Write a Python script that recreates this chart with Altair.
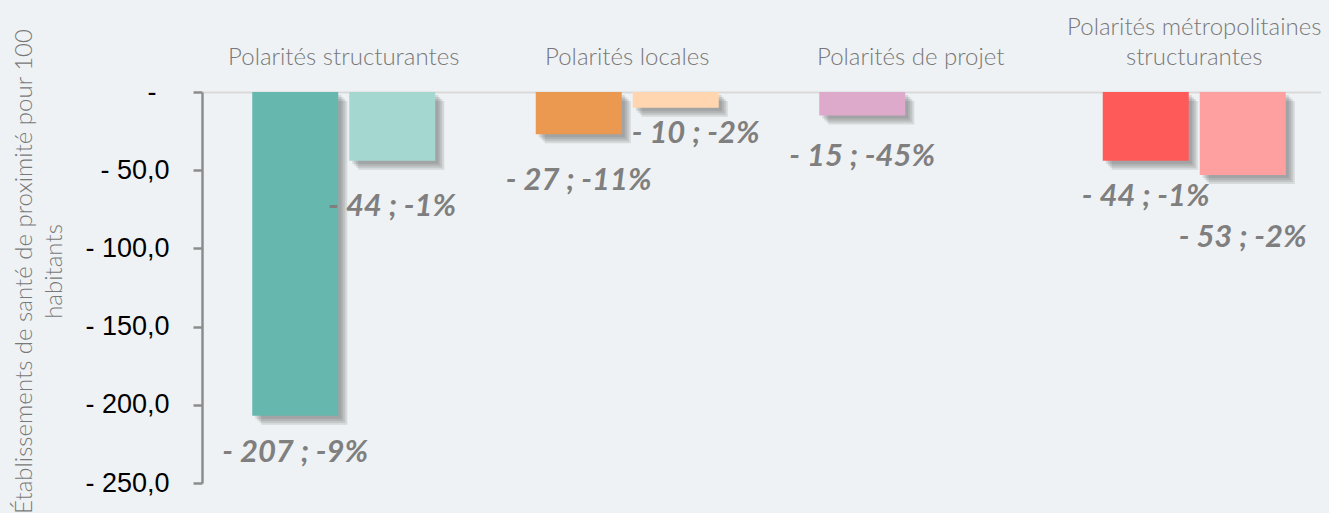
import altair as alt
import pandas as pd

categories = ["Polarités structurantes", "Polarités locales", "Polarités de projet",
              "Polarités métropolitaines structurantes"]
series = ["A", "B"]
values_a = [-207, -27, -15, -44]
values_b = [-44, -10, 0, -53]
pct_a = [-9, -11, -45, -1]
pct_b = [-1, -2, None, -2]
y_ticks = [0, -50, -100, -150, -200, -250]

# styles (not data)
colors_a = ["#66b8ae", "#eb9850", "#ddaacb", "#ff5a5a"]
colors_b = ["#a5d7d1", "#ffd6b0", "#eff2f4", "#ffa0a0"]
label_dy_a = [37, 47, 42, 36]
label_dy_b = [46, 26, 0, 63]
label_dx_a = [0, 0, 0, 0]
label_dx_b = [0, 20, 0, 0]

BG = "#eff2f4"

# page background (same colour as the chart), no scrollbars, no shrinking of the svg
try:
    import altair.utils.html as _h
    _orig = _h.TEMPLATES["standard"]

    class _BgTemplate:
        def render(self, *a, **kw):
            html = _orig.render(*a, **kw)
            return html.replace(
                "<style>",
                "<style>\n    html, body { background: %s; overflow: hidden; }\n"
                "    #vis svg { flex-shrink: 0; }" % BG, 1)

    _h.TEMPLATES["standard"] = _BgTemplate()
except Exception:
    pass

rows = []
keys, colors, styles = [], [], []
for s, vals, pcts, cols, ldy, ldx in [("A", values_a, pct_a, colors_a, label_dy_a, label_dx_a),
                                      ("B", values_b, pct_b, colors_b, label_dy_b, label_dx_b)]:
    for c, v, p, col, dy, dx in zip(categories, vals, pcts, cols, ldy, ldx):
        lab = "" if (v == 0 or p is None) else f"- {abs(v)} ; {p}%"
        k = f"{c}|{s}"
        rows.append({"cat": c, "serie": s, "value": v, "label": lab, "key": k})
        keys.append(k)
        colors.append(col)
        styles.append((k, s, lab, dx, dy))
df = pd.DataFrame(rows)

BAR_W = 86
HALF = 48.5

x_enc = alt.X(
    "cat:N", sort=categories,
    scale=alt.Scale(paddingInner=0, paddingOuter=0),
    axis=alt.Axis(
        orient="top", title=None, labelAngle=0, labelFont="Lato", labelFontWeight=300,
        labelFontSize=24, labelColor="#787878", ticks=False, domainColor="#d9d9d9",
        domainWidth=2, labelPadding=53, labelLimit=500, labelLineHeight=30,
        labelExpr="datum.value == 'Polarités métropolitaines structurantes' ? "
                  "['Polarités métropolitaines', 'structurantes'] : ['', datum.label]",
    ),
)
y_enc = alt.Y(
    "value:Q",
    scale=alt.Scale(domain=[-250, 0], nice=False),
    axis=alt.Axis(
        values=y_ticks, grid=False,
        labelExpr="datum.value == 0 ? '-\u00a0\u2009\u200b' : '- ' + replace(format(-datum.value, '.1f'), '.', ',')",
        labelFont="Liberation Sans", labelFontSize=27, labelColor="#000000",
        labelPadding=24, tickColor="#8c8c8c", tickSize=9, tickWidth=2.5,
        domainColor="#8c8c8c", domainWidth=2.5,
        title=["Établissements de santé de proximité pour 100", "habitants"],
        titleFont="Lato", titleFontWeight=300, titleFontSize=24, titleColor="#787878",
        titleAngle=270, titleAlign="center", titleBaseline="alphabetic", titleLineHeight=30,
        titleX=-171, titleY=179, titleLimit=1000,
    ),
)
color_enc = alt.Color("key:N", scale=alt.Scale(domain=keys, range=colors), legend=None)

base = alt.Chart(df)
layers = []
for s, sign in [("A", -1), ("B", 1)]:
    for off in [3, 5, 7, 9]:
        layers.append(
            base.transform_filter(alt.datum.serie == s)
            .mark_bar(width=BAR_W, color="#555555", opacity=0.16,
                      xOffset=sign * HALF + off, yOffset=off)
            .encode(x=x_enc, y=y_enc)
        )
for s, sign in [("A", -1), ("B", 1)]:
    layers.append(
        base.transform_filter(alt.datum.serie == s)
        .mark_bar(width=BAR_W, xOffset=sign * HALF)
        .encode(x=x_enc, y=y_enc, color=color_enc)
    )
for k, s, lab, dx, dy in styles:
    if not lab:
        continue
    sign = -1 if s == "A" else 1
    layers.append(
        base.transform_filter(alt.datum.key == k)
        .mark_text(font="Lato", fontSize=31, fontWeight="bold", fontStyle="italic",
                   color="#7f7f7f", dx=sign * HALF + dx, dy=dy, baseline="middle")
        .encode(x=x_enc, y=y_enc, text="label:N")
    )

chart = alt.layer(*layers).properties(
    width=1134, height=391,
    padding={"left": 194, "top": 84, "right": 0, "bottom": 30},
    autosize=alt.AutoSizeParams(type="none"),
    background=BG,
).configure_view(stroke=None)

chart.save("out.html", embed_options={"renderer": "svg", "actions": False})
